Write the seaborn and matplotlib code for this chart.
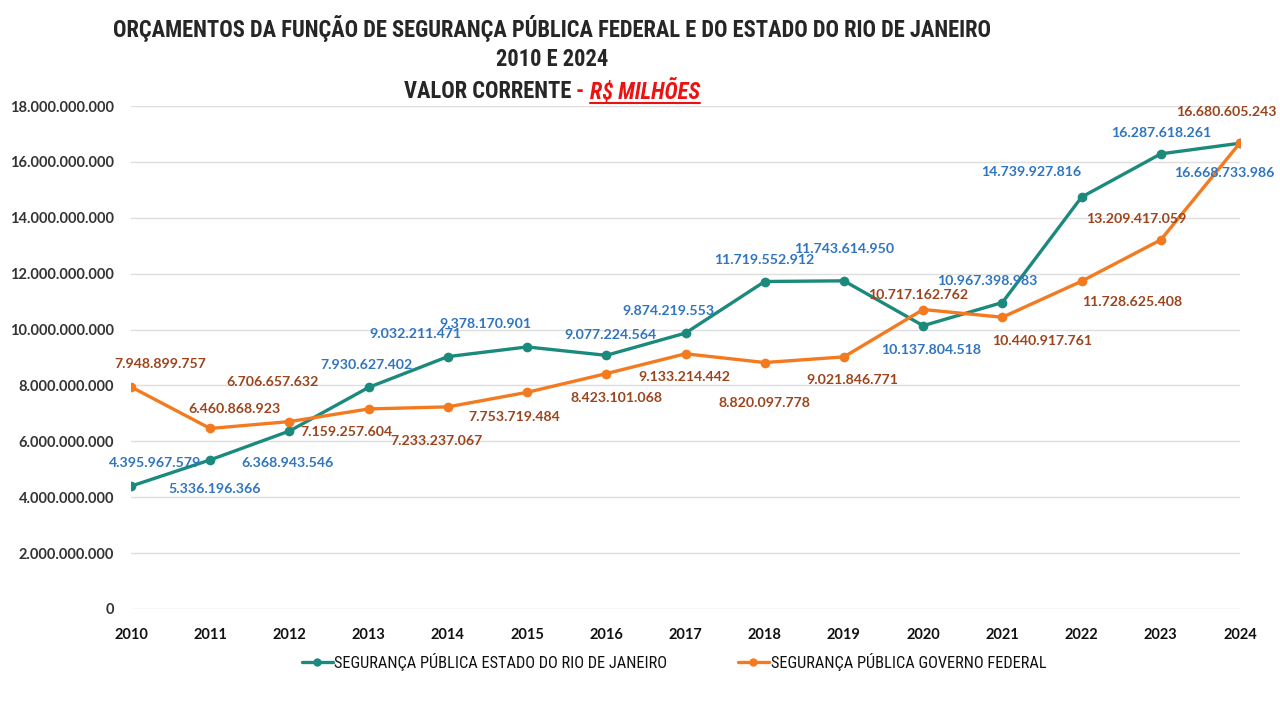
import numpy as np
import pandas as pd
import matplotlib
matplotlib.use("Agg")
import matplotlib.pyplot as plt
from matplotlib.ticker import FuncFormatter
from matplotlib.lines import Line2D
import seaborn as sns

# data
anos = [2010, 2011, 2012, 2013, 2014, 2015, 2016, 2017, 2018, 2019, 2020, 2021, 2022, 2023, 2024]
rio = [4395967579, 5336196366, 6368943546, 7930627402, 9032211471, 9378170901, 9077224564,
       9874219553, 11719552912, 11743614950, 10137804518, 10967398983, 14739927816,
       16287618261, 16668733986]
federal = [7948899757, 6460868923, 6706657632, 7159257604, 7233237067, 7753719484, 8423101068,
           9133214442, 8820097778, 9021846771, 10717162762, 10440917761, 11728625408,
           13209417059, 16680605243]
serie_rio = "SEGURANÇA PÚBLICA ESTADO DO RIO DE JANEIRO"
serie_fed = "SEGURANÇA PÚBLICA GOVERNO FEDERAL"

# label offsets in pixels (dx, dy up)
off_rio = [(24, 23), (4, -29), (-2, -32), (-2, 22), (-32, 23), (-42, 23), (4, 20), (-17, 22),
           (0, 22), (0, 32), (8, -24), (-15, 22), (-50, 25), (0, 21), (-16, -30)]
off_fed = [(29, 23), (24, 19), (-17, 40), (-22, -23), (-11, -34), (-13, -25), (10, -24), (-1, -23),
           (0, -40), (8, -23), (-5, 15), (40, -24), (51, -21), (-24, 21), (-14, 31)]

teal = "#1b8a7c"
orange = "#f47a20"
blue_lbl = "#2f75c0"
brown_lbl = "#9c451d"

df = pd.DataFrame({
    "ano": anos * 2,
    "valor": rio + federal,
    "serie": [serie_rio] * len(anos) + [serie_fed] * len(anos),
})

sns.set_style("white")
plt.rcParams["font.family"] = ["Lato", "DejaVu Sans"]
narrow = ["Roboto Condensed", "DejaVu Sans"]

fig = plt.figure(figsize=(12.8, 7.01), dpi=100)
ax = fig.add_axes([131 / 1280, 1 - 609 / 701, (1240 - 131) / 1280, (609 - 106) / 701])

sns.lineplot(data=df, x="ano", y="valor", hue="serie", palette=[teal, orange],
             marker="o", markersize=7, markeredgewidth=0, linewidth=2.4, ax=ax, legend=False)

def fmt(v, pos=None):
    return f"{int(round(v)):,}".replace(",", ".")

for vals, offs, col in [(rio, off_rio, blue_lbl), (federal, off_fed, brown_lbl)]:
    for a, v, (dx, dy) in zip(anos, vals, offs):
        ax.annotate(fmt(v), (a, v), xytext=(dx, dy), textcoords="offset pixels",
                    ha="center", va="center", fontsize=10.2, fontweight="bold", color=col)

ax.set_xlim(2010, 2024)
ax.set_ylim(0, 18e9)
ax.set_xticks(anos)
ax.set_yticks(np.arange(0, 18e9 + 1, 2e9))
ax.yaxis.set_major_formatter(FuncFormatter(fmt))
ax.grid(axis="y", color="#dedede", linewidth=1)
ax.grid(axis="x", visible=False)
for s in ax.spines.values():
    s.set_visible(False)
ax.tick_params(axis="y", length=0, pad=12, labelsize=10.5, labelcolor="#333333")
ax.tick_params(axis="x", length=0, pad=14, labelsize=10.5, labelcolor="#111111")
for t in ax.get_xticklabels() + ax.get_yticklabels():
    t.set_fontweight("bold")
ax.set_xlabel("")
ax.set_ylabel("")

handles = [Line2D([], [], color=teal, marker="o", markersize=5, linewidth=2.4),
           Line2D([], [], color=orange, marker="o", markersize=5, linewidth=2.4)]
ax.legend(handles, [serie_rio, serie_fed], loc="center", bbox_to_anchor=(674 / 1280, 1 - 662 / 701),
          bbox_transform=fig.transFigure, ncol=2, frameon=False, handlelength=1.9,
          handletextpad=0.1, columnspacing=4.3, labelcolor="#111111",
          prop={"family": narrow, "size": 11.8})

# titles: size fitted so the first line spans the same width as in the source
cx = 552 / 1280
t0 = fig.text(cx, 1 - 28 / 701, "ORÇAMENTOS DA FUNÇÃO DE SEGURANÇA PÚBLICA FEDERAL E DO ESTADO DO RIO DE JANEIRO",
              ha="center", va="center", family=narrow, fontweight="bold", fontsize=16)
fig.canvas.draw()
r = fig.canvas.get_renderer()
tsize = 16 * 883 / t0.get_window_extent(r).width
t0.set_fontsize(tsize)
fig.text(cx, 1 - 59 / 701, "2010 E 2024", ha="center", va="center", family=narrow,
         fontweight="bold", fontsize=tsize)

y3 = 1 - 91 / 701
t1 = fig.text(0, y3, "VALOR CORRENTE ", ha="left", va="center", family=narrow,
              fontweight="bold", fontsize=tsize)
t2 = fig.text(0, y3, "- ", ha="left", va="center", family=narrow,
              fontweight="bold", fontsize=tsize, color="#ee1111")
t3 = fig.text(0, y3, "R$ MILHÕES", ha="left", va="center", family=narrow,
              fontweight="bold", fontstyle="italic", fontsize=tsize, color="#ee1111")
fig.canvas.draw()
ws = [t.get_window_extent(r).width / 1280 for t in (t1, t2, t3)]
x0 = cx - sum(ws) / 2
t1.set_x(x0)
t2.set_x(x0 + ws[0])
t3.set_x(x0 + ws[0] + ws[1])
fig.canvas.draw()
bb = t3.get_window_extent(r)
fig.add_artist(Line2D([bb.x0 / 1280, bb.x1 / 1280], [(bb.y0 + 1) / 701] * 2,
                      color="#ee1111", linewidth=1.5))

fig.savefig("out.png", dpi=100)
